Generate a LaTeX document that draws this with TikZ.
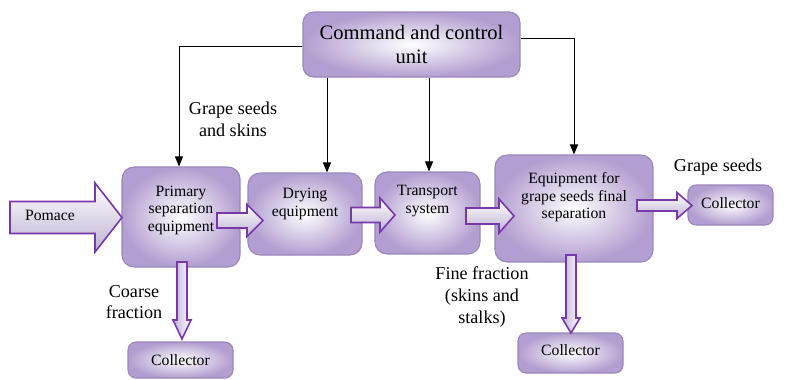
\documentclass[tikz,border=0pt]{standalone}
\usepackage{fontspec}
\setmainfont{Liberation Serif}
\newfontfamily\tnrfont{Liberation Serif}
\usetikzlibrary{arrows.meta}
\definecolor{boxout}{RGB}{178,158,208}
\definecolor{boxedge}{RGB}{155,134,190}
\definecolor{arredge}{RGB}{120,55,170}
\definecolor{arrfill}{RGB}{190,178,212}
\newcommand{\harr}[6]{\path[blockarr,top color=white,bottom color=arrfill] (#1,{#4-#5}) -- (#2,{#4-#5}) -- (#2,{#4-#6}) -- (#3,#4) -- (#2,{#4+#6}) -- (#2,{#4+#5}) -- (#1,{#4+#5}) -- cycle;}
\newcommand{\varr}[6]{\path[blockarr,left color=arrfill,right color=white] ({#4-#5},#1) -- ({#4-#5},#2) -- ({#4-#6},#2) -- (#4,#3) -- ({#4+#6},#2) -- ({#4+#5},#2) -- ({#4+#5},#1) -- cycle;}
\tikzset{
  box/.style={draw=boxedge, line width=0.8pt, rounded corners=9pt, inner color=white, outer color=boxout, inner sep=0pt},
  coll/.style={box, rounded corners=6pt},
  lbl/.style={align=center, font=\tnrfont\fontsize{11.8}{13}\selectfont},
  side/.style={align=center, font=\tnrfont\fontsize{13.6}{16.2}\selectfont, inner sep=0pt},
  blockarr/.style={draw=arredge, line width=1.2pt, line join=miter},
  ctl/.style={draw=black, line width=0.75pt, -{Triangle[length=7.5pt,width=6pt]}}
}
\begin{document}
\begin{tikzpicture}[x=0.75pt,y=-0.75pt]
\useasboundingbox (0,0) rectangle (785,379);
% boxes
\node[box, rounded corners=8pt, minimum width=162.75pt, minimum height=48.75pt, align=center, font=\tnrfont\fontsize{15.4}{18}\selectfont] (cmd) at (411.5,44.5) {Command and control\\unit};
\node[box, minimum width=88.5pt, minimum height=75pt, label={[lbl,yshift=5pt]center:Primary\\separation\\equipment}] (prim) at (181,217) {};
\node[box, minimum width=85.5pt, minimum height=61.5pt, label={[lbl,yshift=7.5pt]center:Drying\\equipment}] (dry) at (305,214) {};
\node[box, minimum width=78.75pt, minimum height=61.5pt, label={[lbl,yshift=9pt]center:Transport\\system}] (trans) at (427.5,213) {};
\node[box, minimum width=118.5pt, minimum height=80.25pt, label={[lbl,yshift=8.5pt]center:Equipment for\\grape seeds final\\separation}] (equip) at (574,208.5) {};
\node[coll, minimum width=63.75pt, minimum height=30pt, label={[lbl,yshift=1.5pt]center:Collector}] (collR) at (730.5,205) {};
\node[coll, minimum width=78.75pt, minimum height=27pt, label={[lbl]center:Collector}] (collL) at (180.5,360) {};
\node[coll, minimum width=78.75pt, minimum height=30pt, label={[lbl,yshift=2pt]center:Collector}] (collM) at (570.5,353) {};
% control connectors
\draw[ctl] (cmd.west |- 0,46) -| ([xshift=-1.5pt]prim.north);
\draw[ctl] (cmd.east |- 0,38) -| (equip.north);
\draw[ctl] (cmd.south -| 327,0) -- (dry.north -| 327,0);
\draw[ctl] (cmd.south -| 429,0) -- (trans.north -| 429,0);
% block arrows
\harr{10}{95}{122}{217.5}{16}{34.5}
\harr{217}{247}{263}{220.5}{7.5}{16}
\harr{351}{380}{395}{215}{7.5}{17}
\harr{466}{499}{514}{216}{8}{17}
\harr{637}{677}{692}{205.5}{5.5}{13}
\varr{262}{320}{339}{182}{5}{9}
\varr{255}{318}{333}{571}{5}{9}
% texts
\node[lbl] (pomace) at (50,215) {Pomace};
\node[side] (gss) at (233,119) {Grape seeds\\and skins};
\node[side] (coarse) at (134,302) {Coarse\\fraction};
\node[side] (fine) at (482,297) {Fine fraction\\(skins and\\stalks)};
\node[side] (gs) at (718,167) {Grape seeds};
\end{tikzpicture}
\end{document}
